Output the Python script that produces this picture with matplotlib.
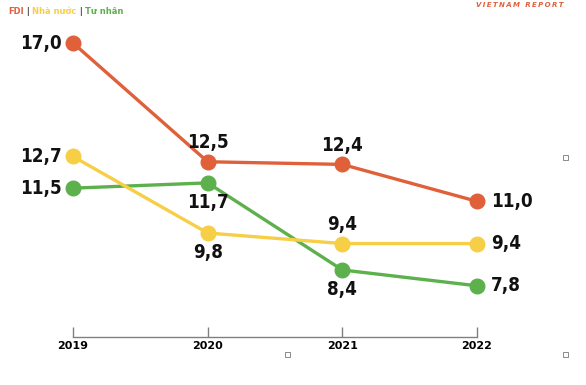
import matplotlib.pyplot as plt
from matplotlib.patches import Rectangle

years = [2019, 2020, 2021, 2022]
fdi = [17.0, 12.5, 12.4, 11.0]
nha_nuoc = [12.7, 9.8, 9.4, 9.4]
tu_nhan = [11.5, 11.7, 8.4, 7.8]

# where each value label sits relative to its point
fdi_pos = ['left', 'above', 'above', 'right']
nn_pos = ['left', 'below', 'above', 'right']
tn_pos = ['left', 'below', 'below', 'right']

RED = '#E0603A'
YELLOW = '#F6CF46'
GREEN = '#5DB14C'

fig = plt.figure(figsize=(5.86, 3.85), dpi=100)
ax = fig.add_axes([73 / 586, 48 / 385, 404 / 586, 294 / 385])


def label(x, y, pos):
    txt = f'{y:.1f}'.replace('.', ',')
    off = {'left': (-8, 0, 'right', 'center'),
           'right': (10, 0, 'left', 'center'),
           'above': (0, 7, 'center', 'bottom'),
           'below': (0, -7, 'center', 'top')}[pos]
    ax.annotate(txt, (x, y), xytext=off[:2], textcoords='offset points',
                ha=off[2], va=off[3], fontsize=13.5, fontweight='bold',
                family='DejaVu Sans', fontstretch='condensed', color='#111111')


for vals, col, poss in [(tu_nhan, GREEN, tn_pos), (nha_nuoc, YELLOW, nn_pos), (fdi, RED, fdi_pos)]:
    ax.plot(years, vals, color=col, lw=2.4, marker='o', ms=10.5,
            clip_on=False, solid_capstyle='round')
    for x, y, p in zip(years, vals, poss):
        label(x, y, p)

ax.set_xlim(2019, 2022)
ax.set_ylim(5.86, 17.0)
for s in ['top', 'right', 'left']:
    ax.spines[s].set_visible(False)
ax.spines['bottom'].set_color('#808080')
ax.spines['bottom'].set_linewidth(1)
ax.set_yticks([])
ax.set_xticks(years)
ax.set_xticklabels([str(y) for y in years])
ax.tick_params(axis='x', direction='in', length=7, width=1, color='#808080',
               pad=3, labelsize=8)
for t in ax.get_xticklabels():
    t.set_fontweight('bold')

# header legend, each piece placed right after the previous one
prev = fig.text(8 / 586, 1 - 12 / 385, 'FDI', color=RED, fontsize=6,
                fontweight='bold', va='center')
for piece, col in [(' | ', '#333333'), ('Nhà nước', YELLOW), (' | ', '#333333'), ('Tư nhân', GREEN)]:
    prev = ax.annotate(piece, xy=(1, 0.5), xycoords=prev, va='center', ha='left',
                       color=col, fontsize=6, fontweight='bold', annotation_clip=False)

fig.text(563 / 586, 1 - 5 / 385, '\u2009'.join('VIETNAM REPORT'), color=RED,
         fontsize=5, fontweight='bold', style='italic', ha='right', va='center')

# small handle squares
for hx, hy in [(565, 157), (287, 354), (565, 354)]:
    fig.add_artist(Rectangle(((hx - 2.5) / 586, 1 - (hy + 2.5) / 385), 5 / 586, 5 / 385,
                             transform=fig.transFigure, fill=False,
                             edgecolor='#777777', lw=0.6))

fig.savefig('out.png', dpi=100)
